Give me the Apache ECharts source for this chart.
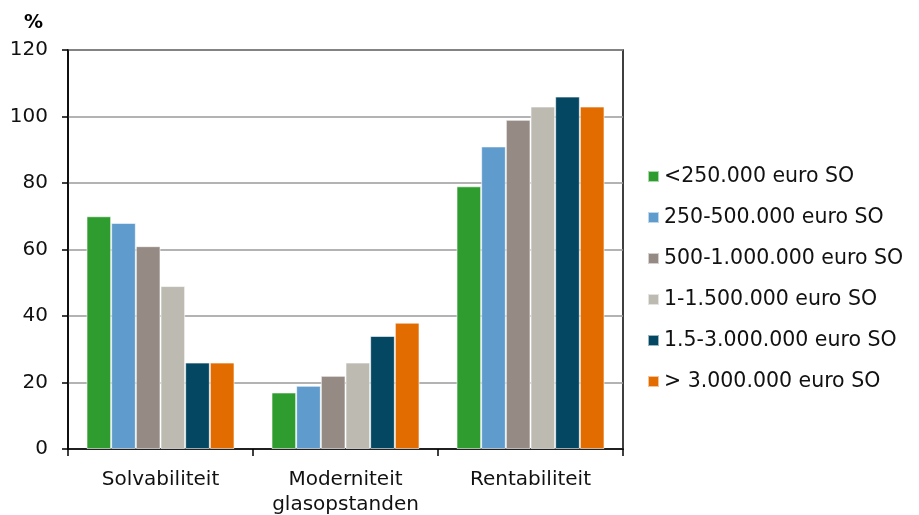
<!DOCTYPE html>
<html>
<head>
<meta charset="utf-8">
<script src="https://cdn.jsdelivr.net/npm/echarts@6/dist/echarts.min.js"></script>
<style>
  html, body { margin: 0; padding: 0; background: #fff; }
  #chart { width: 919px; height: 515px; }
</style>
</head>
<body>
<div id="chart"></div>
<script>
var categories = ['Solvabiliteit', 'Moderniteit\nglasopstanden', 'Rentabiliteit'];
var seriesNames = ['<250.000 euro SO', '250-500.000 euro SO', '500-1.000.000 euro SO',
                   '1-1.500.000 euro SO', '1.5-3.000.000 euro SO', '> 3.000.000 euro SO'];
var lt250 = [70, 17, 79];
var s250_500 = [68, 19, 91];
var s500_1000 = [61, 22, 99];
var s1000_1500 = [49, 26, 103];
var s1500_3000 = [26, 34, 106];
var gt3000 = [26, 38, 103];
var colors = ['#2e9c2e', '#5f9bcc', '#958b84', '#bdbab2', '#034763', '#e36c00'];

var allData = [lt250, s250_500, s500_1000, s1000_1500, s1500_3000, gt3000];
var font = 'DejaVu Sans';

var myChart = echarts.init(document.getElementById('chart'));
var series = allData.map(function (d, i) {
    return {
        name: seriesNames[i],
        type: 'bar',
        data: d,
        barGap: '0%',
        barCategoryGap: '20%',
        itemStyle: { color: colors[i], borderColor: 'rgba(255,255,255,0.6)', borderWidth: 1 }
    };
});

var option = {
    animation: false,
    color: colors,
    textStyle: { fontFamily: font },
    title: {
        text: '%',
        left: 19,
        top: 9,
        textStyle: { fontFamily: font, fontSize: 19, fontWeight: 'bold', color: '#000' }
    },
    legend: {
        orient: 'vertical',
        left: 642,
        top: 161,
        itemWidth: 11,
        itemHeight: 11,
        itemGap: 20,
        icon: 'rect',
        textStyle: { fontFamily: font, fontSize: 20.5, lineHeight: 21, color: '#111' },
        data: seriesNames
    },
    grid: {
        left: 68,
        right: 296,
        top: 50,
        bottom: 66,
        outerBoundsMode: 'none',
        show: true,
        borderColor: '#000',
        borderWidth: 1.5
    },
    xAxis: {
        type: 'category',
        data: categories,
        axisLine: { lineStyle: { color: '#000', width: 1.5 } },
        axisTick: { show: true, interval: 0, alignWithLabel: false, length: 7, lineStyle: { color: '#000', width: 1.5 } },
        axisLabel: { interval: 0, color: '#111', fontSize: 20, fontFamily: font, margin: 18, lineHeight: 25 }
    },
    yAxis: {
        type: 'value',
        min: 0,
        max: 120,
        interval: 20,
        axisLine: { show: true, lineStyle: { color: '#000', width: 1.5 } },
        axisTick: { show: true, length: 6, lineStyle: { color: '#000', width: 1.5 } },
        axisLabel: { color: '#111', fontSize: 20, fontFamily: font, margin: 20 },
        splitLine: { lineStyle: { color: '#9a9a9a', width: 1.5 } }
    },
    series: series
};
myChart.setOption(option);
</script>
</body>
</html>
